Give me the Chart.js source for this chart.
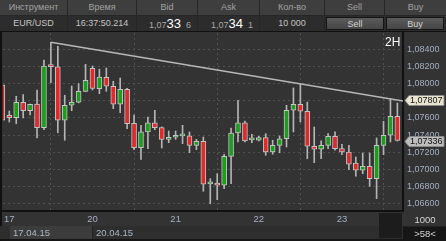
<!DOCTYPE html>
<html>
<head>
<meta charset="utf-8">
<script src="https://cdn.jsdelivr.net/npm/chart.js@4.4.0/dist/chart.umd.min.js"></script>
<style>
body { margin: 0; width: 446px; height: 241px; background: #161616; overflow: hidden; position: relative;
       font-family: 'Liberation Sans', Arial, sans-serif; font-size: 9px; }
.hdr { position: absolute; left: 0; top: 0; width: 446px; height: 15px; background: #3e3e3e; border-bottom: 1px solid #262626; }
.row { position: absolute; left: 0; top: 16px; width: 446px; height: 15px; background: #2c2c2c; }
.cell { position: absolute; top: 0; height: 100%; line-height: 15px; text-align: center; box-sizing: border-box; border-right: 1px solid #262626; }
.hdr .cell { color: #a2a2a2; }
.row .cell { color: #c4c4c4; }
.row .num { text-align: right; padding-right: 6px; color: #a8a8a8; }
.num b { font-weight: normal; font-size: 13px; color: #ffffff; }
.btn { position: absolute; top: 1px; height: 13px; line-height: 13px; text-align: center; color: #d2d2d2;
       background: linear-gradient(#5b5b5b, #464646); border: 1px solid #151515; box-sizing: border-box; }
#wrap { position: absolute; left: 0; top: 32px; width: 446px; height: 194px; background: #333333; }
#leftBorder { position: absolute; left: 0; top: 31px; width: 2px; height: 210px; background: #111; }
#topBorder { position: absolute; left: 0; top: 31px; width: 446px; height: 1px; background: #111; }
.tf { position: absolute; left: 385px; top: 35px; color: #fff; font-size: 12px; }
.bottom { position: absolute; left: 0; top: 226px; width: 403px; height: 13px; background: #2e2e2e; }
.bottom .d { position: absolute; top: 0; height: 13px; line-height: 13px; color: #aab6c8; font-size: 9.5px; }
.dark { position: absolute; left: 379px; top: 213px; width: 23px; height: 25px; background: #1c1c1c; }
.rb { position: absolute; left: 404px; width: 42px; text-align: center; color: #d4d4d4; font-size: 9.5px; }
</style>
</head>
<body>
<div class="hdr">
  <div class="cell" style="left:0;width:68px">Инструмент</div>
  <div class="cell" style="left:68px;width:69px">Время</div>
  <div class="cell" style="left:137px;width:61px">Bid</div>
  <div class="cell" style="left:198px;width:62px">Ask</div>
  <div class="cell" style="left:260px;width:65px">Кол-во</div>
  <div class="cell" style="left:325px;width:60px">Sell</div>
  <div class="cell" style="left:385px;width:61px;border:none">Buy</div>
</div>
<div class="row">
  <div class="cell" style="left:0;width:68px">EUR/USD</div>
  <div class="cell" style="left:68px;width:69px">16:37:50.214</div>
  <div class="cell num" style="left:137px;width:61px">1,07<b>33</b>&nbsp;&nbsp;6</div>
  <div class="cell num" style="left:198px;width:62px">1,07<b>34</b>&nbsp;&nbsp;1</div>
  <div class="cell" style="left:260px;width:65px">10 000</div>
  <div class="btn" style="left:326px;width:58px">Sell</div>
  <div class="btn" style="left:386px;width:58px">Buy</div>
</div>
<div id="wrap"><canvas id="chart" width="446" height="194"></canvas></div>
<div id="topBorder"></div>
<div id="leftBorder"></div>
<div class="tf">2H</div>
<div class="bottom">
  <div class="d" style="left:10px;width:82px;background:#3c3c3c;padding-left:3px;box-sizing:border-box">17.04.15</div>
  <div class="d" style="left:92px;width:1px;background:#222"></div>
  <div class="d" style="left:96px">20.04.15</div>
</div>
<div class="dark"></div>
<div class="rb" style="top:214px">1000</div>
<div class="rb" style="top:226px;height:1px;background:#222"></div>
<div class="rb" style="top:228px">&gt;58&lt;</div>

<script>
// 2H candles, first one is the last bar of 16.04 (index -1)
const firstIndex = -1;
const opens  = [1.07984, 1.07630, 1.07602, 1.07782, 1.07684, 1.07762, 1.07486, 1.08203, 1.08194, 1.07572,
                1.07747, 1.07782, 1.07910, 1.08178, 1.07941, 1.08073, 1.07969, 1.07759, 1.07934, 1.07537,
                1.07252, 1.07436, 1.07541, 1.07486, 1.07350, 1.07374, 1.07390, 1.07392, 1.07280, 1.07327,
                1.06830, 1.06841, 1.06814, 1.07152, 1.07424, 1.07541, 1.07344, 1.07339, 1.07369, 1.07202,
                1.07280, 1.07357, 1.07689, 1.07759, 1.07677, 1.07269, 1.07234, 1.07280, 1.07385, 1.07241,
                1.07202, 1.07074, 1.06989, 1.07036, 1.06891, 1.07280, 1.07397, 1.07619];
const highs  = [1.07995, 1.07680, 1.07852, 1.07871, 1.07762, 1.07925, 1.08275, 1.08482, 1.08435, 1.07864,
                1.07972, 1.07999, 1.08225, 1.08205, 1.08167, 1.08182, 1.08027, 1.08065, 1.07945, 1.07634,
                1.07514, 1.07610, 1.07689, 1.07495, 1.07447, 1.07447, 1.07514, 1.07436, 1.07350, 1.07377,
                1.06891, 1.06949, 1.07176, 1.07482, 1.07805, 1.07564, 1.07409, 1.07385, 1.07416, 1.07339,
                1.07389, 1.07747, 1.07949, 1.07999, 1.07785, 1.07494, 1.07331, 1.07416, 1.07436, 1.07292,
                1.07280, 1.07144, 1.07191, 1.07191, 1.07366, 1.07560, 1.07824, 1.07774];
const lows   = [1.07565, 1.07552, 1.07532, 1.07599, 1.07634, 1.07366, 1.07462, 1.08010, 1.07427, 1.07339,
                1.07684, 1.07775, 1.07905, 1.07925, 1.07882, 1.07910, 1.07707, 1.07661, 1.07474, 1.07229,
                1.07117, 1.07241, 1.07462, 1.07249, 1.07311, 1.07350, 1.07299, 1.07194, 1.07229, 1.06744,
                1.06599, 1.06646, 1.06774, 1.06833, 1.07319, 1.07319, 1.07311, 1.07331, 1.07164, 1.07176,
                1.07194, 1.07261, 1.07436, 1.07552, 1.07124, 1.07078, 1.07124, 1.07241, 1.07222, 1.07171,
                1.06996, 1.06919, 1.06949, 1.06802, 1.06658, 1.07171, 1.07319, 1.07330];
const closes = [1.07572, 1.07602, 1.07782, 1.07684, 1.07759, 1.07486, 1.08205, 1.08197, 1.07572, 1.07747,
                1.07782, 1.07910, 1.08038, 1.07943, 1.08077, 1.07969, 1.07759, 1.07934, 1.07532, 1.07252,
                1.07436, 1.07541, 1.07486, 1.07350, 1.07374, 1.07380, 1.07394, 1.07280, 1.07327, 1.06826,
                1.06835, 1.06814, 1.07152, 1.07424, 1.07541, 1.07331, 1.07348, 1.07369, 1.07202, 1.07280,
                1.07357, 1.07689, 1.07759, 1.07677, 1.07269, 1.07234, 1.07280, 1.07385, 1.07241, 1.07202,
                1.07059, 1.06989, 1.07036, 1.06891, 1.07280, 1.07397, 1.07619, 1.07336];

const dayStarts = [0, 12, 24, 36, 48];
const dayLabels = ['17', '20', '21', '22', '23'];
const priceTicks = [1.066, 1.068, 1.070, 1.072, 1.074, 1.076, 1.078, 1.080, 1.082, 1.084];

// trend line: from high of bar 6 to 1.07807 at the last bar
const trendFrom = 6;
const trendTo = 56;
const trendValue = 1.07807;
const lastPrice = 1.07336;

const xMin = -0.91, xMax = 56.81;
const yMin = 1.06514, yMax = 1.08590;

const wicks = [], bodies = [], bodyColors = [];
for (let k = 0; k < opens.length; k++) {
    const x = firstIndex + k;
    wicks.push({ x: x, y: [lows[k], highs[k]] });
    bodies.push({ x: x, y: [opens[k], closes[k]] });
    bodyColors.push(closes[k] >= opens[k] ? '#1c9e1c' : '#de2a2a');
}

const slope = (trendValue - highs[trendFrom - firstIndex]) / (trendTo - trendFrom);
const trendLine = [
    { x: trendFrom, y: highs[trendFrom - firstIndex] },
    { x: xMax + 1, y: trendValue + slope * (xMax + 1 - trendTo) }
];

const fmt = v => v.toFixed(5).replace('.', ',');

const priceTags = {
    id: 'priceTags',
    afterDraw(chart) {
        const ctx = chart.ctx;
        const ys = chart.scales.y;
        const tags = [[trendValue, '#e9e5d0'], [lastPrice, '#bdbdbd']];
        ctx.save();
        tags.forEach(([v, bg]) => {
            const y = Math.round(ys.getPixelForValue(v)) + 0.5;
            ctx.beginPath();
            ctx.moveTo(405, y);
            ctx.lineTo(409, y - 5);
            ctx.lineTo(444, y - 5);
            ctx.lineTo(444, y + 5);
            ctx.lineTo(409, y + 5);
            ctx.closePath();
            ctx.fillStyle = bg;
            ctx.fill();
            ctx.strokeStyle = '#8a8a8a';
            ctx.lineWidth = 1;
            ctx.stroke();
            ctx.fillStyle = '#111';
            ctx.font = '9px "Liberation Sans", Arial, sans-serif';
            ctx.textBaseline = 'middle';
            ctx.fillText(fmt(v), 410, y + 0.5);
        });
        ctx.restore();
    }
};

new Chart(document.getElementById('chart'), {
    type: 'bar',
    data: {
        datasets: [
            {
                type: 'line',
                data: trendLine,
                borderColor: '#b8b8b8',
                borderWidth: 1.5,
                pointRadius: 0,
                order: 0
            },
            {
                data: bodies,
                backgroundColor: bodyColors,
                borderColor: '#c4c4c4',
                borderWidth: 1,
                borderSkipped: false,
                grouped: false,
                barPercentage: 1,
                categoryPercentage: 1,
                maxBarThickness: 5,
                minBarLength: 2,
                order: 1
            },
            {
                data: wicks,
                backgroundColor: '#b4b4b4',
                borderWidth: 0,
                grouped: false,
                barPercentage: 1,
                categoryPercentage: 1,
                maxBarThickness: 1,
                order: 2
            }
        ]
    },
    options: {
        responsive: false,
        animation: false,
        layout: { padding: { left: 3, top: 1, right: 0, bottom: 0 } },
        plugins: { legend: { display: false }, tooltip: { enabled: false } },
        scales: {
            x: {
                type: 'linear',
                min: xMin,
                max: xMax,
                offset: false,
                afterBuildTicks: s => { s.ticks = dayStarts.map(v => ({ value: v })); },
                afterFit: s => { s.height = 15; s.paddingLeft = 0; s.paddingRight = 0; },
                ticks: {
                    autoSkip: false,
                    maxRotation: 0,
                    padding: 3,
                    color: '#a3afc2',
                    font: { family: '"Liberation Sans", Arial, sans-serif', size: 9.5 },
                    callback: v => dayLabels[dayStarts.indexOf(v)]
                },
                grid: { color: '#525252', drawTicks: false },
                border: { dash: [2, 3], color: '#111', width: 2 }
            },
            y: {
                position: 'right',
                min: yMin,
                max: yMax,
                afterBuildTicks: s => { s.ticks = priceTicks.map(v => ({ value: v })); },
                afterFit: s => { s.width = 43; s.paddingTop = 0; s.paddingBottom = 0; },
                ticks: {
                    padding: 4,
                    color: '#a3afc2',
                    font: { family: '"Liberation Sans", Arial, sans-serif', size: 9 },
                    callback: v => fmt(v)
                },
                grid: { color: '#525252', drawTicks: false },
                border: { dash: [2, 3], color: '#111', width: 2 }
            }
        }
    },
    plugins: [priceTags]
});
</script>
</body>
</html>
